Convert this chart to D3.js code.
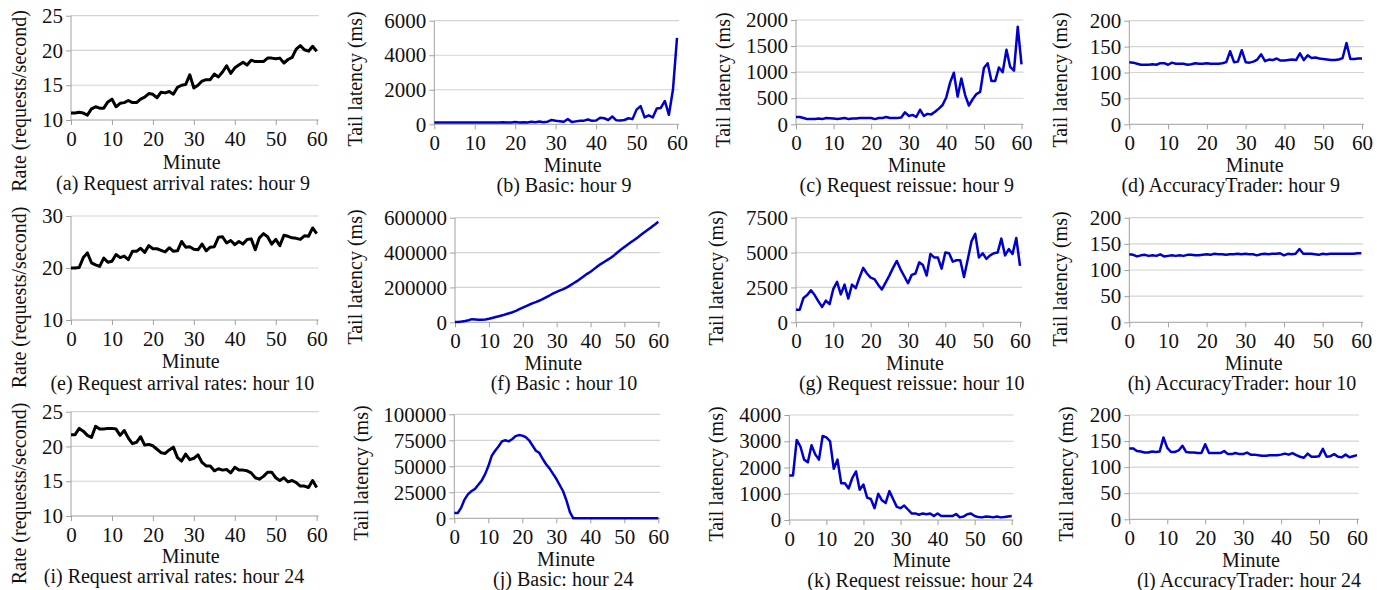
<!DOCTYPE html>
<html>
<head>
<meta charset="utf-8">
<script src="https://cdn.jsdelivr.net/npm/d3@7"></script>
<style>
  body { margin: 0; background: #fff; }
  svg { display: block; font-family: "Liberation Serif", "Times New Roman", serif; }
</style>
</head>
<body>
<div id="fig"></div>
<script>
// minute index on the x axis, and its tick labels
const minutes = d3.range(61);
const xTicks = [0, 10, 20, 30, 40, 50, 60];

// hour 9
const rateHour9 = [11.0,11.0,11.1,11.0,10.7,11.6,11.9,11.7,11.7,12.6,
  13.0,11.9,12.4,12.5,12.8,12.5,12.5,13.0,13.3,13.8,
  13.7,13.2,14.0,13.9,14.1,13.7,14.7,15.0,15.1,16.5,
  14.6,15.0,15.6,15.8,15.8,16.6,16.2,16.9,17.8,16.7,
  17.5,17.9,18.3,17.9,18.6,18.4,18.4,18.4,18.9,18.9,
  18.8,18.9,18.2,18.7,19.0,20.2,20.7,20.1,19.9,20.6,19.9];
const basicHour9 = [100,100,100,100,100,100,100,100,100,100,
  100,100,100,100,100,100,100,120,110,100,
  130,110,120,110,150,120,160,120,150,250,
  200,180,150,300,130,170,200,210,280,200,
  220,380,350,250,450,230,220,250,350,300,
  850,1050,400,520,400,920,950,1350,550,2000,5000];
const reissueHour9 = [140,140,120,100,100,100,110,100,120,115,
  110,100,110,120,100,110,110,120,120,120,
  120,100,120,120,140,120,120,120,130,230,
  160,180,140,280,160,200,190,240,300,370,
  520,800,990,530,880,560,360,480,580,620,
  1080,1170,830,830,1090,1000,1430,1100,1030,1870,1150];
const accHour9 = [120,119,117,115,115,115,116,115,118,118,
  115,119,117,117,117,115,116,118,117,117,
  118,117,117,117,118,120,141,120,121,143,
  120,119,121,125,135,122,125,124,127,123,
  123,124,125,124,137,124,133,128,129,127,
  126,125,124,124,125,128,157,126,126,127,127];

// hour 10
const rateHour10 = [20.0,20.0,20.1,22.0,22.9,21.0,20.6,20.3,21.9,21.1,
  21.3,22.6,22.0,22.3,21.6,23.2,23.2,23.8,23.0,24.3,
  23.7,23.7,23.4,23.1,23.9,23.2,23.3,25.1,24.0,24.1,
  23.6,23.5,24.6,23.3,24.0,24.1,25.9,26.0,24.8,25.3,
  24.5,25.1,24.6,25.5,25.6,23.5,25.8,26.6,26.0,24.6,
  25.5,24.3,26.3,26.1,25.8,25.7,25.5,26.2,26.1,27.7,26.6];
const basicHour10 = [2000,2000,4000,7000,12000,18000,16000,14000,14000,16000,
  20000,25000,30000,35000,40000,46000,52000,58000,66000,75000,
  84000,93000,102000,110000,117000,125000,135000,145000,155000,166000,
  175000,183000,190000,200000,212000,224000,236000,250000,264000,278000,
  290000,305000,320000,334000,346000,358000,370000,385000,402000,418000,
  432000,446000,460000,474000,488000,503000,518000,532000,546000,561000,577000];
const reissueHour10 = [900,900,1750,1950,2300,1950,1500,1100,1550,1300,
  2400,2900,2000,2700,1700,2700,2450,3200,3900,3500,
  3200,3100,2700,2350,2850,3350,3900,4400,3800,3300,
  2800,3400,3500,4300,4100,3350,4900,4650,4650,3850,
  5000,4950,4350,4450,4450,3250,4500,5800,6350,4650,
  4950,4550,4800,4950,5000,6000,4800,5250,4900,6050,4050];
const accHour10 = [130,129,126,128,129,127,128,127,130,126,
  127,128,127,128,127,129,129,128,128,129,
  130,129,131,130,130,129,130,130,131,130,
  131,130,130,128,130,131,130,131,131,132,
  128,131,130,131,140,131,131,131,130,129,
  131,130,131,131,131,131,131,131,131,132,132];

// hour 24
const rateHour24 = [21.7,21.7,22.6,22.2,21.6,21.3,22.9,22.5,22.5,22.6,
  22.6,22.5,21.6,22.3,21.2,20.4,20.6,21.4,20.2,20.3,
  20.1,19.6,19.1,19.0,19.5,19.9,18.4,17.9,18.9,18.1,
  18.3,18.8,17.7,17.2,17.2,16.5,16.8,16.6,16.7,16.2,
  17.0,16.6,16.6,16.5,16.2,15.5,15.3,15.7,16.3,16.3,
  15.5,15.1,15.5,14.9,15.1,14.8,14.3,14.3,14.1,15.1,14.1];
const basicHour24 = [5000,5000,10000,18000,23000,26000,28000,32000,36000,42000,
  50000,60000,65000,69000,74000,75000,74000,76000,79000,80000,
  79500,78000,75000,70000,65000,63000,57000,52000,48000,43000,
  38000,32000,26000,17000,6000,0,0,0,0,0,
  0,0,0,0,0,0,0,0,0,0,
  0,0,0,0,0,0,0,0,0,0,0];
const reissueHour24 = [1700,1700,3050,2800,2300,2200,2850,2500,2300,3200,
  3150,3000,1950,2300,1400,1400,1200,1600,1850,1150,
  1350,850,800,450,1000,750,650,1100,800,500,
  450,550,400,250,250,200,250,220,250,150,
  250,150,150,150,150,230,100,130,220,250,
  150,110,100,130,120,100,130,100,110,130,150];
const accHour24 = [136,136,131,130,128,128,130,129,130,157,
  137,129,129,132,141,129,128,128,127,127,
  144,127,127,127,127,131,125,125,127,125,
  125,128,124,124,123,122,122,123,123,123,
  124,126,124,127,123,120,118,126,120,120,
  121,135,120,121,125,120,119,124,119,121,123];

// y tick labels
const rateTicks9 = [10, 15, 20, 25];
const rateTicks10 = [10, 20, 30];
const rateTicks24 = [10, 15, 20, 25];
const basicTicks9 = [0, 2000, 4000, 6000];
const basicTicks10 = [0, 200000, 400000, 600000];
const basicTicks24 = [0, 25000, 50000, 75000, 100000];
const reissueTicks9 = [0, 500, 1000, 1500, 2000];
const reissueTicks10 = [0, 2500, 5000, 7500];
const reissueTicks24 = [0, 1000, 2000, 3000, 4000];
const accTicks = [0, 50, 100, 150, 200];

const rateLabel = "Rate (requests/second)";
const latLabel = "Tail latency (ms)";

const black = "#000", blue = "#0000cc";

// panel layout: plot frame, y-label centre, "Minute" and caption positions
const panels = [
  {data: rateHour9, ticks: rateTicks9, x0: 71, x60: 316.7, top: 15.7, bot: 120, color: black, lw: 3,
   ylabel: rateLabel, lx: 19, ly: 101, mx: 191.7, my: 168.5, cx: 183, cy: 190,
   caption: "(a) Request arrival rates: hour 9"},
  {data: basicHour9, ticks: basicTicks9, x0: 434.3, x60: 677, top: 20.7, bot: 124.3, color: blue, lw: 2.5,
   ylabel: latLabel, lx: 355, ly: 79, mx: 572.7, my: 171.5, cx: 564, cy: 191.5,
   caption: "(b) Basic: hour 9"},
  {data: reissueHour9, ticks: reissueTicks9, x0: 796, x60: 1021.5, top: 20, bot: 124.3, color: blue, lw: 2.5,
   ylabel: latLabel, lx: 723, ly: 80, mx: 916.7, my: 171.5, cx: 906.7, cy: 191.5,
   caption: "(c) Request reissue: hour 9"},
  {data: accHour9, ticks: accTicks, x0: 1129.3, x60: 1362, top: 20.7, bot: 124.3, color: blue, lw: 2.5,
   ylabel: latLabel, lx: 1059.5, ly: 80, mx: 1254.7, my: 171.5, cx: 1230.7, cy: 191.5,
   caption: "(d) AccuracyTrader: hour 9"},

  {data: rateHour10, ticks: rateTicks10, x0: 71, x60: 316.7, top: 216, bot: 320, color: black, lw: 3,
   ylabel: rateLabel, lx: 19, ly: 297.5, mx: 190.7, my: 368.3, cx: 182.3, cy: 390,
   caption: "(e) Request arrival rates: hour 10"},
  {data: basicHour10, ticks: basicTicks10, x0: 455, x60: 658.3, top: 217.7, bot: 322.3, color: blue, lw: 2.5,
   ylabel: latLabel, lx: 355, ly: 277, mx: 553.3, my: 369.5, cx: 564, cy: 389.5,
   caption: "(f) Basic : hour 10"},
  {data: reissueHour10, ticks: reissueTicks10, x0: 796, x60: 1020, top: 217.7, bot: 322.3, color: blue, lw: 2.5,
   ylabel: latLabel, lx: 716, ly: 278, mx: 915, my: 370, cx: 911.7, cy: 390,
   caption: "(g) Request reissue: hour 10"},
  {data: accHour10, ticks: accTicks, x0: 1129.3, x60: 1361.3, top: 217.7, bot: 322.3, color: blue, lw: 2.5,
   ylabel: latLabel, lx: 1059.5, ly: 279, mx: 1253.7, my: 370, cx: 1242, cy: 390,
   caption: "(h) AccuracyTrader: hour 10"},

  {data: rateHour24, ticks: rateTicks24, x0: 71, x60: 316.7, top: 411.7, bot: 516, color: black, lw: 3,
   ylabel: rateLabel, lx: 19, ly: 493.5, mx: 190.7, my: 563, cx: 174, cy: 583,
   caption: "(i) Request arrival rates: hour 24"},
  {data: basicHour24, ticks: basicTicks24, x0: 454.3, x60: 658.3, top: 414.3, bot: 518.3, color: blue, lw: 2.5,
   ylabel: latLabel, lx: 361, ly: 473, mx: 566, my: 566, cx: 563.3, cy: 586,
   caption: "(j) Basic: hour 24"},
  {data: reissueHour24, ticks: reissueTicks24, x0: 789.3, x60: 1011.7, top: 415, bot: 520, color: blue, lw: 2.5,
   ylabel: latLabel, lx: 716, ly: 474, mx: 921.7, my: 567, cx: 920, cy: 587,
   caption: "(k) Request reissue: hour 24"},
  {data: accHour24, ticks: accTicks, x0: 1129.3, x60: 1357, top: 415, bot: 519.3, color: blue, lw: 2.5,
   ylabel: latLabel, lx: 1066, ly: 474, mx: 1251, my: 566.5, cx: 1249, cy: 586.5,
   caption: "(l) AccuracyTrader: hour 24"}
];

const svg = d3.select("#fig")
  .append("svg")
  .attr("width", 1377)
  .attr("height", 590);

svg.append("rect").attr("width", 1377).attr("height", 590).attr("fill", "#fff");

panels.forEach(p => {
  const x = d3.scaleLinear().domain([0, 60]).range([p.x0, p.x60]);
  const y = d3.scaleLinear().domain(d3.extent(p.ticks)).range([p.bot, p.top]);
  const right = p.x60 + 2;
  const g = svg.append("g");

  //horizontal gridlines
  g.append("g")
    .selectAll("line")
    .data(p.ticks.slice(1))
    .join("line")
    .attr("x1", p.x0)
    .attr("x2", right)
    .attr("y1", d => y(d))
    .attr("y2", d => y(d))
    .attr("stroke", "#d4d4d4")
    .attr("stroke-width", 1.2);

  //y axis
  const ya = g.append("g")
    .attr("transform", `translate(${p.x0},0)`)
    .call(d3.axisLeft(y).tickValues(p.ticks).tickSize(5).tickSizeOuter(0).tickPadding(3).tickFormat(d3.format("d")));

  //x axis
  const xa = g.append("g")
    .attr("transform", `translate(0,${p.bot})`)
    .call(d3.axisBottom(x).tickValues(xTicks).tickSize(5).tickSizeOuter(0).tickPadding(6).tickFormat(d3.format("d")));

  // d3 puts sans-serif on axis groups; let the serif from the svg come through
  [ya, xa].forEach(a => {
    a.attr("font-family", null).attr("font-size", null);
    a.select(".domain").remove();
    a.selectAll(".tick line").attr("stroke", "#a0a0a0");
    a.selectAll("text").attr("fill", "#111").style("font-size", "21px");
  });

  g.append("line")
    .attr("x1", p.x0).attr("x2", p.x0)
    .attr("y1", p.top).attr("y2", p.bot)
    .attr("stroke", "#a0a0a0");
  g.append("line")
    .attr("x1", p.x0).attr("x2", right)
    .attr("y1", p.bot).attr("y2", p.bot)
    .attr("stroke", "#a0a0a0");

  //the series
  const line = d3.line()
    .x((d, i) => x(minutes[i]))
    .y(d => y(d));

  g.append("path")
    .datum(p.data)
    .attr("fill", "none")
    .attr("stroke", p.color)
    .attr("stroke-width", p.lw)
    .attr("stroke-linejoin", "round")
    .attr("d", line);

  //labels
  g.append("text")
    .attr("transform", `translate(${p.lx},${p.ly}) rotate(-90)`)
    .attr("text-anchor", "middle")
    .attr("dominant-baseline", "central")
    .style("font-size", "20px")
    .attr("fill", "#111")
    .text(p.ylabel);

  g.append("text")
    .attr("x", p.mx)
    .attr("y", p.my)
    .attr("text-anchor", "middle")
    .style("font-size", "20px")
    .attr("fill", "#111")
    .text("Minute");

  g.append("text")
    .attr("x", p.cx)
    .attr("y", p.cy)
    .attr("text-anchor", "middle")
    .style("font-size", "20px")
    .attr("fill", "#111")
    .text(p.caption);
});
</script>
</body>
</html>
